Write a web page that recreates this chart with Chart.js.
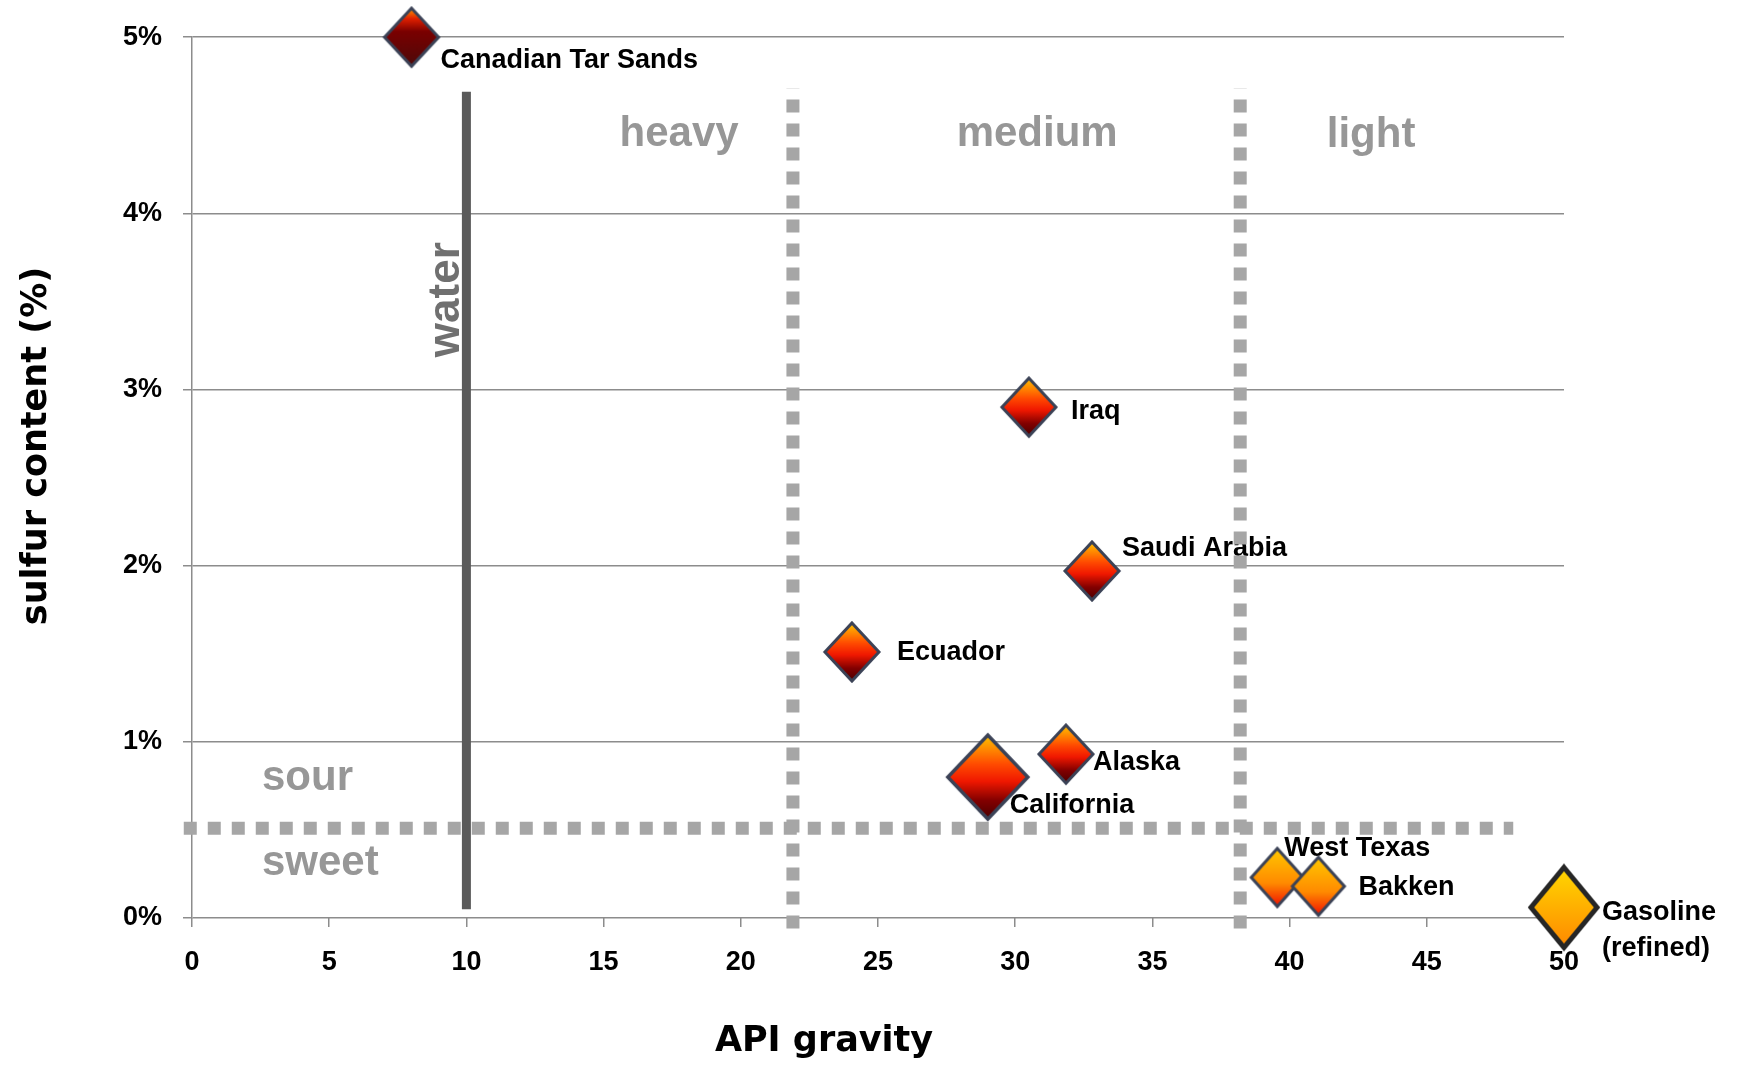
<!DOCTYPE html>
<html>
<head>
<meta charset="utf-8">
<title>API gravity vs sulfur content</title>
<script src="https://cdn.jsdelivr.net/npm/chart.js@4.4.1/dist/chart.umd.min.js"></script>
<style>
    html, body { margin: 0; padding: 0; background: #fff; }
    #wrap { width: 1739px; height: 1067px; }
</style>
</head>
<body>
<div id="wrap"><canvas id="chart" width="1739" height="1067"></canvas></div>
<script>
// crude oils: name, API gravity, sulfur content (%)
const crudeNames = ['Canadian Tar Sands', 'Iraq', 'Saudi Arabia', 'Ecuador', 'Alaska', 'California', 'West Texas', 'Bakken', 'Gasoline\n(refined)'];
const apiGravity = [8, 30.5, 32.8, 24.05, 31.85, 29, 39.55, 41.05, 50];
const sulfurPct = [5.0, 2.9, 1.97, 1.51, 0.93, 0.80, 0.23, 0.18, 0.06];

// reference lines
const waterApi = 10;
const waterSpan = [0.05, 4.69];
const gradeLimits = [21.9, 38.2];          // heavy | medium | light
const gradeSpan = [-0.06, 4.71];
const sourLimit = 0.51;                    // sour above, sweet below
const sourSpan = [-0.3, 48.15];

const xTicks = [0, 5, 10, 15, 20, 25, 30, 35, 40, 45, 50];
const yTicks = [0, 1, 2, 3, 4, 5];

// marker looks (one per crude)
const redStops = [[0, '#ffc400'], [0.35, '#ff4a00'], [0.55, '#f01800'], [0.78, '#820000'], [1, '#4a0000']];
const lightStops = [[0, '#ffc800'], [0.6, '#ff8a00'], [1, '#f01000']];
const markerLook = [
    { hw: 27, hh: 29, stops: [[0, '#ff9a00'], [0.18, '#e02000'], [0.4, '#7a0000'], [1, '#4d0a0a']], edge: '#3b4256', bw: 3 },
    { hw: 27, hh: 29, stops: redStops, edge: '#3b4256', bw: 3 },
    { hw: 27, hh: 29, stops: redStops, edge: '#3b4256', bw: 3 },
    { hw: 27, hh: 29, stops: redStops, edge: '#3b4256', bw: 3 },
    { hw: 27, hh: 29, stops: redStops, edge: '#3b4256', bw: 3 },
    { hw: 40, hh: 42, stops: redStops, edge: '#3b4256', bw: 3.5 },
    { hw: 26, hh: 29, stops: lightStops, edge: '#3b4256', bw: 3 },
    { hw: 26, hh: 29, stops: lightStops, edge: '#3b4256', bw: 3 },
    { hw: 33, hh: 40, stops: [[0, '#ffd800'], [1, '#ff8800']], edge: '#262626', bw: 5 }
];
// where each name sits relative to its marker (px)
const labelShift = [[29, 23], [42, 4], [30, -22], [45, 1], [27, 8], [22, 28], [7, -29], [40, 1], [38, 5]];

const zoneLabels = [
    { text: 'heavy', x: 17.75, y: 4.45, align: 'center' },
    { text: 'medium', x: 30.8, y: 4.45, align: 'center' },
    { text: 'light', x: 42.97, y: 4.44, align: 'center' },
    { text: 'sour', x: 2.55, y: 0.79, align: 'left' },
    { text: 'sweet', x: 2.55, y: 0.31, align: 'left' }
];

function diamond(look) {
    const c = document.createElement('canvas');
    const pad = Math.ceil(look.bw) + 1;
    c.width = 2 * (look.hw + pad);
    c.height = 2 * (look.hh + pad);
    const g = c.getContext('2d');
    const cx = c.width / 2, cy = c.height / 2;
    const grad = g.createLinearGradient(0, cy - look.hh, 0, cy + look.hh);
    look.stops.forEach(s => grad.addColorStop(s[0], s[1]));
    g.beginPath();
    g.moveTo(cx, cy - look.hh);
    g.lineTo(cx + look.hw, cy);
    g.lineTo(cx, cy + look.hh);
    g.lineTo(cx - look.hw, cy);
    g.closePath();
    g.fillStyle = grad;
    g.fill();
    g.lineWidth = look.bw;
    g.strokeStyle = look.edge;
    g.stroke();
    return c;
}

const labelFont = 'bold 27px "Liberation Sans", Arial, sans-serif';

const annotate = {
    id: 'annotate',
    beforeDatasetsDraw(chart) {
        const ctx = chart.ctx;
        const xs = chart.scales.x, ys = chart.scales.y;
        ctx.save();
        // zone names
        ctx.fillStyle = '#979797';
        ctx.font = 'bold 42px "Liberation Sans", Arial, sans-serif';
        ctx.textBaseline = 'middle';
        zoneLabels.forEach(z => {
            ctx.textAlign = z.align;
            ctx.fillText(z.text, xs.getPixelForValue(z.x), ys.getPixelForValue(z.y));
        });
        // water
        ctx.save();
        ctx.translate(xs.getPixelForValue(9.29), ys.getPixelForValue(3.51));
        ctx.rotate(-Math.PI / 2);
        ctx.textAlign = 'center';
        ctx.fillStyle = '#707070';
        ctx.font = 'bold 44px "Liberation Sans", Arial, sans-serif';
        ctx.fillText('water', 0, 0);
        ctx.restore();
        // crude names
        const pts = chart.getDatasetMeta(0).data;
        ctx.fillStyle = '#000';
        ctx.font = labelFont;
        ctx.textAlign = 'left';
        pts.forEach((p, i) => {
            const lines = crudeNames[i].split('\n');
            lines.forEach((t, k) => {
                ctx.fillText(t, p.x + labelShift[i][0], p.y + labelShift[i][1] + k * 36);
            });
        });
        ctx.restore();
    },
    afterDraw(chart) {
        const ctx = chart.ctx;
        ctx.save();
        ctx.fillStyle = '#000';
        ctx.font = 'bold 35px "DejaVu Sans", Verdana, sans-serif';
        ctx.textAlign = 'center';
        ctx.textBaseline = 'middle';
        ctx.fillText('API gravity', 824, 1042);
        ctx.translate(37, 446);
        ctx.rotate(-Math.PI / 2);
        ctx.fillText('sulfur content (%)', 0, 0);
        ctx.restore();
    }
};

function initChart() {
    const ctx = document.getElementById('chart').getContext('2d');
    const points = apiGravity.map((v, i) => ({ x: v, y: sulfurPct[i] }));
    const dotted = { borderColor: '#a6a6a6', borderWidth: 13, borderDash: [13, 11], pointRadius: 0, clip: false, order: 2 };

    new Chart(ctx, {
        type: 'scatter',
        data: {
            datasets: [
                {
                    label: 'crudes',
                    data: points,
                    pointStyle: markerLook.map(diamond),
                    pointRadius: 28,
                    clip: false,
                    order: 0
                },
                Object.assign({ type: 'line', data: [{ x: gradeLimits[0], y: gradeSpan[0] }, { x: gradeLimits[0], y: gradeSpan[1] }] }, dotted),
                Object.assign({ type: 'line', data: [{ x: gradeLimits[1], y: gradeSpan[0] }, { x: gradeLimits[1], y: gradeSpan[1] }] }, dotted),
                Object.assign({ type: 'line', data: [{ x: sourSpan[0], y: sourLimit }, { x: sourSpan[1], y: sourLimit }] }, dotted),
                {
                    type: 'line',
                    data: [{ x: waterApi, y: waterSpan[0] }, { x: waterApi, y: waterSpan[1] }],
                    borderColor: '#5a5a5a',
                    borderWidth: 9,
                    pointRadius: 0,
                    clip: false,
                    order: 1
                }
            ]
        },
        options: {
            responsive: false,
            animation: false,
            layout: { padding: { left: 0, right: 175, top: 36, bottom: 0 } },
            plugins: {
                legend: { display: false },
                tooltip: { enabled: false }
            },
            scales: {
                x: {
                    type: 'linear',
                    min: 0,
                    max: 50,
                    afterBuildTicks: s => { s.ticks = xTicks.map(v => ({ value: v })); },
                    afterFit: s => { s.height = 149; },
                    grid: { drawOnChartArea: false, drawTicks: true, tickLength: 9, color: '#8c8c8c', lineWidth: 1.5 },
                    border: { display: false },
                    ticks: { color: '#000', padding: 19, font: { family: '"Liberation Sans", Arial, sans-serif', size: 27, weight: 'bold' } }
                },
                y: {
                    type: 'linear',
                    min: 0,
                    max: 5,
                    afterBuildTicks: s => { s.ticks = yTicks.map(v => ({ value: v })); },
                    afterFit: s => { s.width = 192; },
                    grid: { color: '#8c8c8c', lineWidth: 1.5, tickLength: 9 },
                    border: { color: '#8c8c8c', width: 1.5 },
                    ticks: {
                        color: '#000',
                        padding: 21,
                        font: { family: '"Liberation Sans", Arial, sans-serif', size: 27, weight: 'bold' },
                        callback: v => v + '%'
                    }
                }
            }
        },
        plugins: [annotate]
    });
}

initChart();
</script>
</body>
</html>
